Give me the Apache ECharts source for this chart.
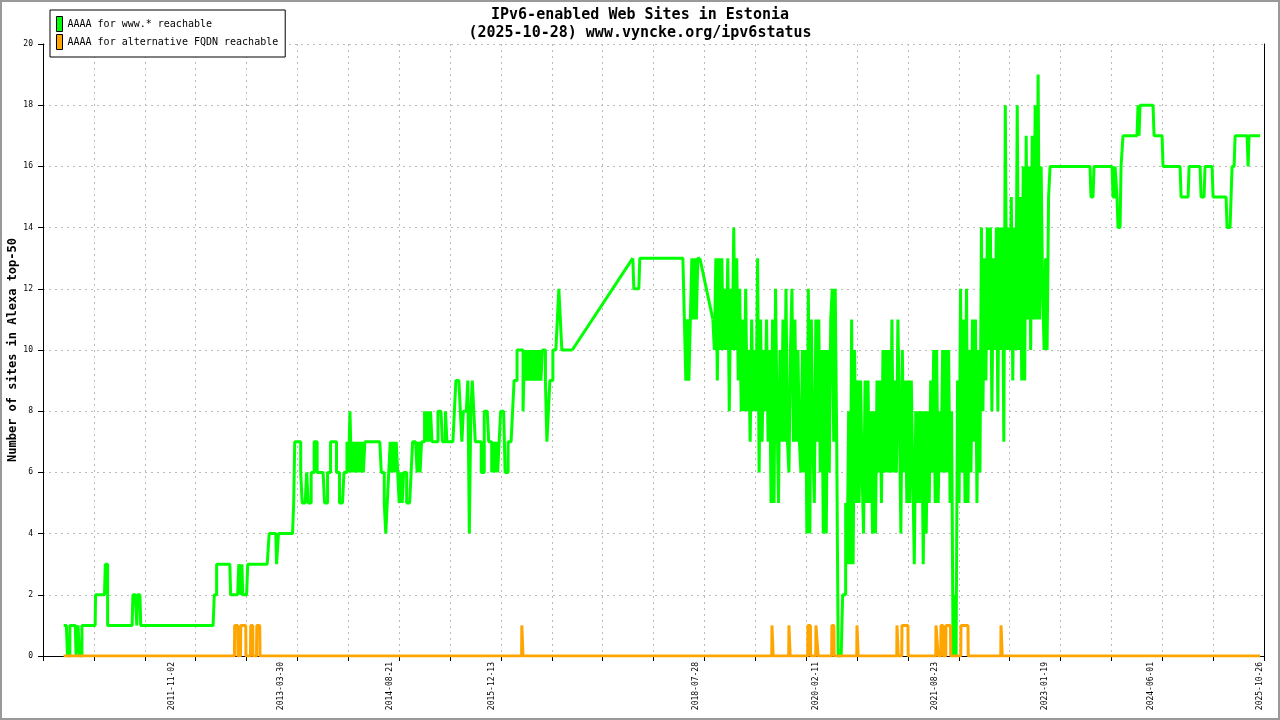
<!DOCTYPE html>
<html lang="en">
<head>
    <meta charset="UTF-8">
    <title>IPv6-enabled Web Sites in Estonia</title>
    <script src="https://cdn.jsdelivr.net/npm/echarts@6/dist/echarts.min.js"></script>
    <style>
        html, body { margin: 0; padding: 0; background: #fff; }
        #main { width: 1280px; height: 720px; }
    </style>
</head>
<body>
    <div id="main"></div>
    <script>
        // x values are decimal years (2013.5 = start of July 2013)
        var FONT = 'DejaVu Sans Mono';
        var WEEK = 7 / 365.25;

        var xStart = 2010.185;
        var xEnd = 2025.868;
        var tickCount = 24;   // minor grid divisions along the x axis

        var dateLabels = ['2011-11-02', '2013-03-30', '2014-08-21', '2015-12-13', '2018-07-28',
                          '2020-02-11', '2021-08-23', '2023-01-19', '2024-06-01', '2025-10-26'];

        // www.* reachable : step-like part 2010 - 2013
        var wwwPoints1 = [
            [2010.45, 1], [2010.485, 1], [2010.50, 0], [2010.52, 0], [2010.53, 1], [2010.60, 1],
            [2010.61, 0], [2010.625, 0], [2010.635, 1], [2010.645, 1], [2010.655, 0], [2010.675, 0],
            [2010.685, 1], [2010.855, 1], [2010.86, 2], [2010.975, 2], [2010.985, 3], [2011.005, 3],
            [2011.015, 1], [2011.33, 1], [2011.34, 2], [2011.37, 2], [2011.38, 1.5], [2011.39, 1],
            [2011.40, 2], [2011.43, 2], [2011.44, 1], [2012.37, 1], [2012.385, 2], [2012.405, 2],
            [2012.415, 3], [2012.585, 3], [2012.595, 2], [2012.685, 2], [2012.70, 3], [2012.715, 3],
            [2012.725, 2], [2012.74, 3], [2012.75, 2], [2012.80, 2], [2012.815, 3], [2013.065, 3],
            [2013.09, 4], [2013.175, 4], [2013.185, 3], [2013.20, 3], [2013.21, 4], [2013.39, 4],
            [2013.405, 5]
        ];

        // weekly readings 2013-06 .. 2016-12
        var wwwWeekly1Start = 2013.4185;
        var wwwWeekly1 = [
            7, 7, 7, 7, 6, 5, 5, 5, 6, 5,
            5, 6, 6, 7, 7, 6, 6, 6, 6, 6,
            5, 5, 6, 6, 7, 7, 7, 7, 6, 6,
            5, 5, 5, 6, 6, 7, 6, 8, 6, 7,
            6, 7, 6, 7, 6, 7, 6, 7, 7, 7,
            7, 7, 7, 7, 7, 7, 7, 7, 6, 6,
            5, 4, 5, 6, 7, 6, 7, 6, 7, 6,
            5, 6, 5, 6, 6, 5, 5, 5, 6, 7,
            7, 7, 6, 7, 6, 7, 7, 8, 7, 8,
            7, 8, 7, 7, 7, 7, 8, 8, 8, 7,
            7, 8, 7, 7, 7, 7, 7, 8, 9, 9,
            9, 8, 7, 8, 8, 8, 9, 4, 8, 9,
            8, 7, 7, 7, 7, 6, 6, 8, 8, 8,
            7, 7, 6, 7, 6, 7, 6, 7, 8, 8,
            8, 6, 6, 7, 7, 7, 8, 9, 9, 10,
            10, 10, 10, 8, 10, 9, 10, 9, 10, 9,
            10, 9, 10, 9, 10, 9, 10, 10, 9, 7,
            8, 9, 9, 10, 10, 10, 11, 12, 11, 10,
            10, 10, 10, 10, 10, 10, 10
        ];

        // after the 2017 gap
        var wwwPoints2 = [
            [2017.761, 13], [2017.774, 12], [2017.838, 12], [2017.851, 13], [2018.404, 13],
            [2018.423, 11], [2018.442, 9], [2018.462, 11], [2018.481, 9], [2018.500, 11],
            [2018.519, 13], [2018.539, 11], [2018.558, 13], [2018.577, 11], [2018.596, 13],
            [2018.622, 13]
        ];

        // weekly readings 2018-10 .. 2023-02
        var wwwWeekly2Start = 2018.789;
        var wwwWeekly2 = [
            11, 10, 13, 9, 13, 10, 13, 10, 12, 10,
            13, 8, 12, 10, 14, 10, 13, 9, 12, 8,
            11, 8, 12, 8, 10, 7, 11, 8, 10, 8,
            13, 6, 11, 7, 10, 8, 11, 7, 10, 5,
            11, 5, 12, 8, 5, 10, 7, 11, 7, 12,
            7, 6, 10, 12, 7, 11, 7, 10, 7, 6,
            10, 6, 10, 4, 12, 4, 11, 7, 5, 11,
            7, 11, 6, 10, 4, 10, 4, 10, 6, 11,
            12, 7, 12, 7, 0, 0, 0, 2, 2, 5,
            3, 8, 3, 11, 3, 10, 5, 9, 5, 9,
            6, 4, 9, 5, 9, 5, 8, 4, 8, 4,
            9, 6, 9, 5, 10, 6, 10, 6, 10, 6,
            11, 6, 9, 6, 11, 8, 4, 10, 6, 9,
            5, 9, 5, 9, 6, 3, 8, 5, 8, 5,
            8, 3, 8, 4, 8, 5, 9, 6, 10, 5,
            10, 5, 8, 6, 10, 6, 10, 6, 10, 5,
            8, 0, 2, 0, 9, 5, 12, 6, 11, 5,
            12, 5, 10, 6, 11, 7, 11, 5, 10, 6,
            14, 8, 13, 9, 14, 10, 14, 8, 13, 10,
            14, 8, 14, 10, 14, 7, 18, 10, 14, 10,
            15, 9, 14, 10, 18, 10, 15, 9, 16, 9,
            17, 11, 16, 10, 17, 11, 18, 11, 19, 11,
            16, 12, 10, 13, 10, 15, 16
        ];

        // step-like part 2023 - 2025
        var wwwPoints3 = [
            [2023.633, 16], [2023.646, 15], [2023.672, 15], [2023.685, 16], [2023.916, 16],
            [2023.929, 15], [2023.942, 15], [2023.955, 16], [2023.967, 16], [2023.98, 15],
            [2023.993, 14], [2024.019, 14], [2024.032, 16], [2024.044, 16], [2024.057, 17],
            [2024.237, 17], [2024.250, 18], [2024.263, 17], [2024.276, 18], [2024.443, 18],
            [2024.456, 17], [2024.559, 17], [2024.571, 16], [2024.790, 16], [2024.803, 15],
            [2024.893, 15], [2024.906, 16], [2025.047, 16], [2025.060, 15], [2025.098, 15],
            [2025.111, 16], [2025.201, 16], [2025.214, 15], [2025.381, 15], [2025.394, 14],
            [2025.432, 14], [2025.445, 15], [2025.458, 16], [2025.484, 16], [2025.497, 17],
            [2025.651, 17], [2025.664, 16], [2025.676, 17], [2025.818, 17]
        ];

        // alternative FQDN reachable: 0 except these periods at 1
        var fqdnFirst = 2010.45;
        var fqdnLast = 2025.818;
        var fqdnOn = [
            [2012.647, 2012.686], [2012.725, 2012.789], [2012.853, 2012.879], [2012.931, 2012.969],
            [2016.335, 2016.348], [2019.548, 2019.561], [2019.766, 2019.779], [2020.010, 2020.042],
            [2020.113, 2020.138], [2020.318, 2020.344], [2020.640, 2020.653], [2021.154, 2021.167],
            [2021.218, 2021.295], [2021.655, 2021.680], [2021.719, 2021.745], [2021.783, 2021.841],
            [2021.976, 2022.066], [2022.490, 2022.503]
        ];

        function weekly(start, vals) {
            return vals.map(function (v, i) { return [start + i * WEEK, v]; });
        }

        function decimalYear(str) {
            var p = str.split('-').map(Number);
            var t = Date.UTC(p[0], p[1] - 1, p[2]);
            var t0 = Date.UTC(p[0], 0, 1);
            var t1 = Date.UTC(p[0] + 1, 0, 1);
            return p[0] + (t - t0) / (t1 - t0);
        }

        var week1 = weekly(wwwWeekly1Start, wwwWeekly1);
        var week2 = weekly(wwwWeekly2Start, wwwWeekly2);
        var wwwPartA = [].concat(wwwPoints1, week1);
        var wwwPartB = [].concat(wwwPoints2);
        var wwwPartC = [].concat(week2, wwwPoints3);
        // straight lines over the periods without measurements
        var wwwGap1 = [week1[week1.length - 1], wwwPoints2[0]];
        var wwwGap2 = [wwwPoints2[wwwPoints2.length - 1], week2[0]];

        var fqdnData = [[fqdnFirst, 0]];
        fqdnOn.forEach(function (r) {
            fqdnData.push([r[0] - 0.003, 0], [r[0], 1], [r[1], 1], [r[1] + 0.003, 0]);
        });
        fqdnData.push([fqdnLast, 0]);

        var labelYears = dateLabels.map(decimalYear);

        var gridLine = { show: true, lineStyle: { color: '#bbbbbb', width: 1, type: [2, 4] } };

        var WWW = 'AAAA for www.* reachable';
        var FQDN = 'AAAA for alternative FQDN reachable';
        function wwwSeries(data, step) {
            return {
                name: WWW, type: 'line', xAxisIndex: 0, yAxisIndex: 0,
                data: data, step: step,
                symbol: 'none', showSymbol: false,
                lineStyle: { color: '#00ff00', width: 3 },
                itemStyle: { color: '#00ff00' },
                z: 2
            };
        }

        var myChart = echarts.init(document.getElementById('main'));
        var option = {
            animation: false,
            backgroundColor: '#ffffff',
            title: [{
                text: 'IPv6-enabled Web Sites in Estonia',
                left: 'center', top: 8, padding: 0,
                textStyle: { fontFamily: FONT, fontSize: 15, fontWeight: 'bold', color: '#000' }
            }, {
                text: '(2025-10-28) www.vyncke.org/ipv6status',
                left: 'center', top: 26, padding: 0,
                textStyle: { fontFamily: FONT, fontSize: 15, fontWeight: 'bold', color: '#000' }
            }],
            legend: {
                orient: 'vertical',
                left: 50, top: 10,
                padding: [6, 7, 7, 6],
                itemWidth: 6, itemHeight: 15, itemGap: 2,
                icon: 'rect',
                borderColor: '#000', borderWidth: 1, borderRadius: 0,
                backgroundColor: '#fff',
                itemStyle: { borderColor: '#000', borderWidth: 1 },
                textStyle: { fontFamily: FONT, fontSize: 10, color: '#000' },
                data: [WWW, FQDN]
            },
            grid: { left: 43, right: 16, top: 44, bottom: 64, containLabel: false, outerBoundsMode: 'none' },
            xAxis: [{
                type: 'value', min: xStart, max: xEnd, position: 'bottom',
                axisLine: { show: false }, axisTick: { show: false }, splitLine: { show: false },
                axisLabel: {
                    customValues: labelYears,
                    formatter: function (v) {
                        for (var i = 0; i < labelYears.length; i++) {
                            if (Math.abs(labelYears[i] - v) < 1e-6) return dateLabels[i];
                        }
                        return '';
                    },
                    rotate: 90, margin: 6,
                    fontFamily: FONT, fontSize: 8, color: '#000'
                }
            }, {
                type: 'value', min: 0, max: tickCount, interval: 1, position: 'bottom',
                axisLine: { show: true, onZero: false, lineStyle: { color: '#000', width: 1 } },
                axisTick: { show: true, length: 5, lineStyle: { color: '#000' } },
                axisLabel: { show: false },
                splitLine: gridLine
            }],
            yAxis: [{
                type: 'value', min: 0, max: 20, interval: 2,
                name: 'Number of sites in Alexa top-50',
                nameLocation: 'middle', nameGap: 24, nameMoveOverlap: false,
                nameTextStyle: { fontFamily: FONT, fontSize: 12, fontWeight: 'bold', color: '#000' },
                axisLine: { show: true, lineStyle: { color: '#000', width: 1 } },
                axisTick: { show: true, length: 5, lineStyle: { color: '#000' } },
                axisLabel: { fontFamily: FONT, fontSize: 8, color: '#000', margin: 10 },
                splitLine: gridLine
            }, {
                type: 'value', min: 0, max: 20, position: 'right',
                axisLine: { show: true, lineStyle: { color: '#000', width: 1 } },
                axisTick: { show: false }, axisLabel: { show: false }, splitLine: { show: false }
            }],
            series: [
                wwwSeries(wwwPartA, 'end'),
                wwwSeries(wwwGap1, false),
                wwwSeries(wwwPartB, 'end'),
                wwwSeries(wwwGap2, false),
                wwwSeries(wwwPartC, 'end'),
                {
                    name: FQDN,
                    type: 'line', xAxisIndex: 0, yAxisIndex: 0,
                    data: fqdnData,
                    symbol: 'none', showSymbol: false,
                    lineStyle: { color: '#ffa500', width: 3 },
                    itemStyle: { color: '#ffa500' },
                    z: 3
                }
            ],
            graphic: [{
                type: 'rect', silent: true, z: 100,
                shape: { x: 1, y: 1, width: 1278, height: 718 },
                style: { fill: null, stroke: '#999999', lineWidth: 2 }
            }]
        };
        myChart.setOption(option);
    </script>
</body>
</html>
